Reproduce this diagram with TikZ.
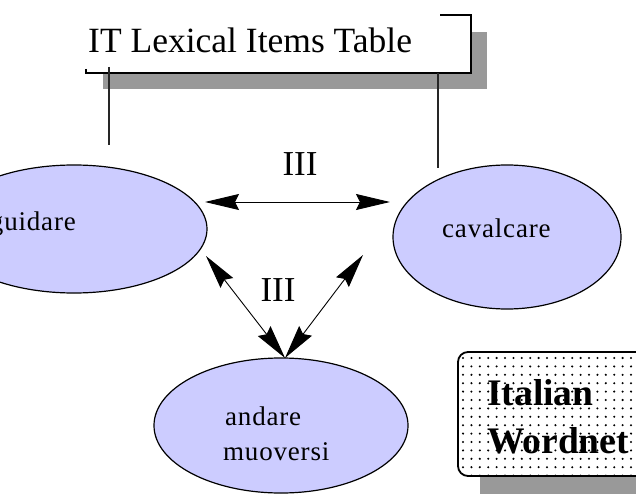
\documentclass[tikz,border=0pt]{standalone}
\usepackage{fontspec}
\setmainfont{Liberation Serif}
\newfontfamily\lblfont[LetterSpace=3]{Liberation Serif}
\usetikzlibrary{shapes.geometric,arrows.meta}
\definecolor{lav}{HTML}{CCCCFF}
\definecolor{shadowgray}{HTML}{999999}
\begin{document}
\begin{tikzpicture}[x=1pt,y=-1pt,
  lex/.style={ellipse, draw=black, line width=1.2pt, fill=lav, inner sep=0pt},
  conn/.style={line width=0.9pt, {Stealth[length=34pt,width=16pt,inset=4pt]}-{Stealth[length=34pt,width=16pt,inset=4pt]}},
  tie/.style={line width=1.4pt, draw=black!85},
  rel/.style={font=\fontsize{35}{36}\selectfont, inner sep=0pt},
  word/.style={font=\lblfont\fontsize{27}{30}\selectfont, inner sep=0pt},
  wn/.style={font=\bfseries\fontsize{37.5}{40}\selectfont, inner sep=0pt, anchor=base west}]
\clip (0,0) rectangle (636,494);
\fill[white] (0,0) rectangle (636,494);

% title box with shadow
\fill[shadowgray] (103,32) rectangle (487,89);
\fill[white] (86,15) rectangle (471,73);
\node[anchor=base west, font=\fontsize{35.5}{40}\selectfont, inner sep=0pt] (title) at (88,53) {IT Lexical Items Table};
\draw[line width=1.5pt] (86,69) -- (86,73) -- (471,73) -- (471,15) -- (440,15);

% ellipses
\node[lex, minimum width=266pt, minimum height=128pt] (guidare) at (74,229) {};
\node[lex, minimum width=228pt, minimum height=144pt] (cavalcare) at (507,237) {};
\node[lex, minimum width=254pt, minimum height=135pt] (andare) at (281,425.5) {};

\node[word, anchor=base east] (tg) at (76,230) {guidare};
\node[word, anchor=base west] (tc) at (442,237) {cavalcare};
\node[word, anchor=base west] (ta1) at (225,425) {andare};
\node[word, anchor=base west] (ta2) at (223,460) {muoversi};

% ties from title to ellipses
\coordinate (t1a) at (109,67);
\coordinate (t1b) at (109,145);
\coordinate (t2a) at (438,73);
\coordinate (t2b) at (438,168);
\draw[tie] (t1a) -- (t1b);
\draw[tie] (t2a) -- (t2b);

% relations
\coordinate (h1) at (205,202);
\coordinate (h2) at (390,202);
\coordinate (d1) at (206,256);
\coordinate (d2) at (363,255);
\coordinate (m) at (285,358);
\draw[conn] (h1) -- (h2);
\draw[conn] (d1) -- (m);
\draw[conn] (d2) -- (m);
\node[rel, anchor=base] (r1) at (300,176) {III};
\node[rel, anchor=base] (r2) at (278,301) {III};

% Italian Wordnet box
\fill[shadowgray] (480,470) rectangle (660,500);
\begin{scope}
  \clip[rounded corners=10pt] (458,352) rectangle (660,476);
  \fill[white] (458,352) rectangle (660,476);
  \foreach \i in {0,...,23} {
    \foreach \j in {0,...,14} {
      \fill (463+\i*8.4, 358+\j*8.4) circle (1.15pt);
    }
  }
\end{scope}
\draw[line width=1.8pt, rounded corners=10pt] (458,352) rectangle (660,476);
\node[wn] (w1) at (487,405) {Italian};
\node[wn] (w2) at (487,453) {Wordnet};
\end{tikzpicture}
\end{document}
